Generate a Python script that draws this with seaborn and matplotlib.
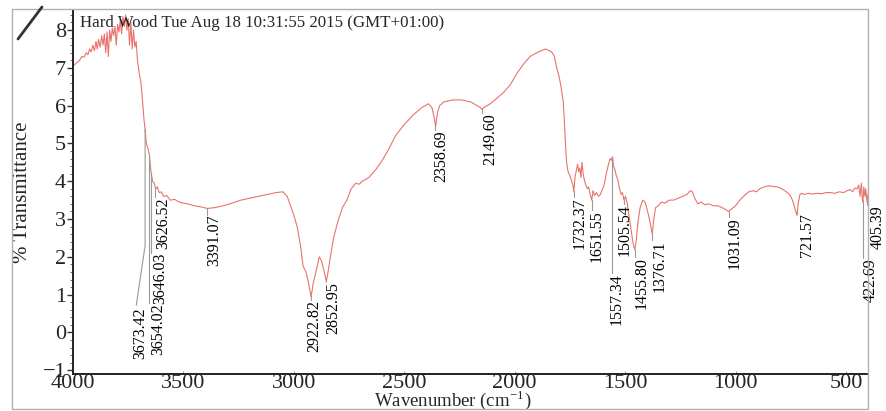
import numpy as np
import seaborn as sns
import matplotlib.pyplot as plt
from matplotlib.lines import Line2D
from matplotlib.patches import Rectangle

# ==========================================
# FTIR spectrum
# ==========================================

wavenumber = [
    4000, 3990, 3980, 3970, 3960, 3950, 3940, 3932, 3925, 3918, 3910, 3903,
    3896, 3890, 3884, 3877, 3870, 3864, 3858, 3852, 3846, 3840, 3834, 3828,
    3822, 3816, 3810, 3804, 3798, 3792, 3786, 3780, 3774, 3768, 3762, 3756,
    3750, 3744, 3738, 3732, 3726, 3720, 3714, 3708, 3700, 3692, 3685, 3678,
    3673, 3668, 3660, 3654, 3648, 3640, 3632, 3626, 3618, 3610, 3600, 3590,
    3575, 3560, 3540, 3520, 3500, 3480, 3450, 3420, 3391, 3360, 3320, 3280,
    3240, 3200, 3160, 3120, 3080, 3050, 3030, 3015, 3000, 2985, 2970, 2958,
    2945, 2935, 2922, 2912, 2900, 2885, 2875, 2862, 2853, 2845, 2836, 2820,
    2800, 2780, 2760, 2740, 2720, 2705, 2690, 2660, 2630, 2600, 2570, 2540,
    2500, 2460, 2420, 2390, 2375, 2365, 2358, 2350, 2340, 2320, 2280, 2240,
    2200, 2170, 2155, 2149, 2140, 2110, 2080, 2050, 2020, 1990, 1960, 1930,
    1900, 1880, 1860, 1850, 1840, 1830, 1820, 1810, 1800, 1790, 1780, 1775,
    1770, 1765, 1758, 1750, 1742, 1736, 1732, 1727, 1720, 1715, 1710, 1705,
    1700, 1695, 1690, 1685, 1678, 1670, 1665, 1658, 1651, 1645, 1638, 1630,
    1620, 1612, 1605, 1595, 1585, 1575, 1568, 1562, 1557, 1552, 1546, 1540,
    1533, 1525, 1518, 1512, 1505, 1498, 1490, 1480, 1470, 1462, 1456, 1450,
    1442, 1432, 1420, 1410, 1400, 1390, 1382, 1377, 1370, 1362, 1350, 1335,
    1320, 1300, 1280, 1260, 1240, 1220, 1205, 1195, 1185, 1170, 1155, 1140,
    1120, 1100, 1080, 1060, 1045, 1031, 1015, 1000, 980, 960, 940, 920,
    905, 890, 870, 850, 830, 810, 790, 770, 755, 742, 732, 722,
    715, 708, 700, 690, 670, 650, 630, 610, 590, 570, 550, 530,
    510, 495, 480, 470, 460, 450, 442, 436, 430, 426, 423, 419,
    414, 410, 405, 400,
]

transmittance = [
    7.05, 7.10, 7.15, 7.20, 7.30, 7.28, 7.40, 7.35, 7.50, 7.42, 7.60, 7.45,
    7.70, 7.50, 7.75, 7.55, 7.85, 7.60, 7.90, 7.40, 7.95, 7.30, 8.00, 7.70,
    8.05, 7.85, 8.10, 7.60, 8.15, 7.95, 8.25, 7.90, 8.35, 8.10, 8.40, 8.00,
    8.30, 7.60, 8.20, 7.50, 8.00, 7.55, 7.70, 7.20, 6.85, 6.60, 6.10, 5.60,
    5.35, 5.00, 4.85, 4.70, 4.30, 4.00, 3.95, 3.80, 3.85, 3.70, 3.72, 3.60,
    3.62, 3.50, 3.52, 3.45, 3.42, 3.40, 3.35, 3.32, 3.28, 3.30, 3.35, 3.42,
    3.50, 3.55, 3.60, 3.65, 3.70, 3.72, 3.60, 3.35, 3.10, 2.80, 2.30, 1.75,
    1.60, 1.35, 0.94, 1.30, 1.60, 2.00, 1.90, 1.60, 1.35, 1.60, 1.95, 2.50,
    2.95, 3.30, 3.50, 3.80, 3.95, 3.92, 4.00, 4.10, 4.30, 4.55, 4.85, 5.20,
    5.50, 5.75, 5.95, 6.05, 5.95, 5.70, 5.45, 5.80, 6.00, 6.10, 6.15, 6.15,
    6.10, 6.00, 5.95, 5.90, 5.95, 6.05, 6.20, 6.35, 6.55, 6.85, 7.10, 7.30,
    7.40, 7.45, 7.50, 7.47, 7.45, 7.40, 7.30, 7.00, 6.80, 6.50, 6.10, 5.60,
    5.00, 4.50, 4.25, 4.15, 4.00, 3.90, 3.72, 4.10, 4.30, 4.45, 4.25, 4.35,
    4.10, 4.50, 4.20, 4.05, 3.90, 3.80, 3.85, 3.65, 3.50, 3.75, 3.62, 3.70,
    3.60, 3.65, 3.75, 3.90, 4.20, 4.45, 4.60, 4.55, 4.65, 4.40, 4.30, 4.15,
    4.05, 3.80, 3.65, 3.70, 3.50, 3.60, 3.40, 3.00, 2.60, 2.30, 2.20, 2.40,
    2.90, 3.30, 3.50, 3.45, 3.25, 3.00, 2.75, 2.60, 3.00, 3.30, 3.35, 3.45,
    3.42, 3.50, 3.50, 3.55, 3.60, 3.65, 3.75, 3.72, 3.55, 3.40, 3.45, 3.38,
    3.40, 3.35, 3.35, 3.30, 3.25, 3.20, 3.28, 3.35, 3.50, 3.62, 3.72, 3.75,
    3.72, 3.80, 3.85, 3.88, 3.86, 3.85, 3.80, 3.72, 3.65, 3.50, 3.30, 3.10,
    3.45, 3.65, 3.68, 3.65, 3.68, 3.66, 3.68, 3.67, 3.70, 3.70, 3.68, 3.72,
    3.70, 3.75, 3.78, 3.72, 3.82, 3.80, 3.90, 3.60, 3.95, 3.55, 3.45, 3.85,
    3.60, 3.80, 3.45, 3.65,
]

# peak labels: peak position, text centre and top of the text
peak_wn = [3673.42, 3654.02, 3646.03, 3626.52, 3391.07, 2922.82, 2852.95,
           2358.69, 2149.60, 1732.37, 1651.55, 1557.34, 1505.54, 1455.80,
           1376.71, 1031.09, 721.57, 422.69, 405.39]
peak_text = ["3673.42", "3654.02", "3646.03", "3626.52", "3391.07", "2922.82",
             "2852.95", "2358.69", "2149.60", "1732.37", "1651.55", "1557.34",
             "1505.54", "1455.80", "1376.71", "1031.09", "721.57", "422.69",
             "405.39"]
label_wn = [3697, 3615, 3606, 3592, 3361, 2909, 2822, 2333, 2111, 1704, 1627,
            1536, 1500, 1423, 1342, 1002, 676, 386, 354]
label_top = [0.67, 0.78, 2.10, 3.58, 3.11, 0.86, 1.33, 5.35, 5.80, 3.58, 3.24,
             1.57, 3.40, 1.99, 2.44, 3.05, 3.16, 1.97, 3.37]

# ==========================================
# PLOT
# ==========================================

sns.set_theme(style="white")
plt.rcParams['font.family'] = ['Liberation Serif', 'DejaVu Serif']
plt.rcParams['mathtext.fontset'] = 'stix'

fig = plt.figure(figsize=(8.86, 4.11), dpi=100)
ax = fig.add_axes([73 / 886, 1 - 374 / 411, 795 / 886, 364 / 411])

sns.lineplot(
    x=wavenumber,
    y=transmittance,
    ax=ax,
    color='#e8736c',
    linewidth=0.8,
    estimator=None
)

ax.set_xlim(4000, 400)
ax.set_ylim(-1.1, 8.53)

# peak markers
for pw, txt, lw_, lt in zip(peak_wn, peak_text, label_wn, label_top):
    curve = np.interp(pw, wavenumber[::-1], transmittance[::-1])
    if txt == "3673.42":
        ax.plot([pw, pw, pw + 40], [curve, 2.3, lt + 0.05],
                color='#999999', lw=0.8, clip_on=False)
    else:
        ax.plot([pw, pw], [curve, lt], color='#999999', lw=0.8, clip_on=False)
    ax.text(lw_, lt, txt, rotation=90, ha='center', va='top',
            fontsize=11.5, color='black', clip_on=False)

ax.text(0.009, 0.986, "Hard Wood Tue Aug 18 10:31:55 2015 (GMT+01:00)",
        transform=ax.transAxes, ha='left', va='top', fontsize=12.2)

ax.set_yticks(range(-1, 9))
ax.set_yticks(np.arange(-1, 8.5, 0.2), minor=True)
ax.set_xticks([4000, 3500, 3000, 2500, 2000, 1500, 1000, 500])
ax.tick_params(axis='y', which='major', direction='out', length=4,
               width=1, pad=1, labelsize=16, left=True, color='#333333')
ax.tick_params(axis='y', which='minor', direction='out', length=2.2,
               width=0.6, left=True, color='#555555')
ax.tick_params(axis='x', which='major', direction='in', length=2,
               width=0.6, pad=0, labelsize=16, bottom=True, color='#888888')

ax.set_xlabel(r"Wavenumber (cm$^{\mathregular{-1}}$)", fontsize=13.5)
ax.xaxis.set_label_coords(0.477, -0.040)
ax.set_ylabel("% Transmittance", fontsize=15)
ax.yaxis.set_label_coords(-0.052, 0.5)

for side in ['top', 'right']:
    ax.spines[side].set_visible(False)
for side in ['left', 'bottom']:
    ax.spines[side].set_color('#222222')
    ax.spines[side].set_linewidth(1.4)

# outer page frame of the scan and the pen stroke top left
fig.patches.append(Rectangle((12 / 886, 2 / 411), 856 / 886, 400 / 411,
                             transform=fig.transFigure, fill=False,
                             edgecolor='#b0b0b0', linewidth=1.0))
fig.lines.append(Line2D([18 / 886, 42 / 886], [1 - 39 / 411, 1 - 7 / 411],
                        transform=fig.transFigure, color='#333333', lw=2))

plt.savefig("out.png", dpi=100)
